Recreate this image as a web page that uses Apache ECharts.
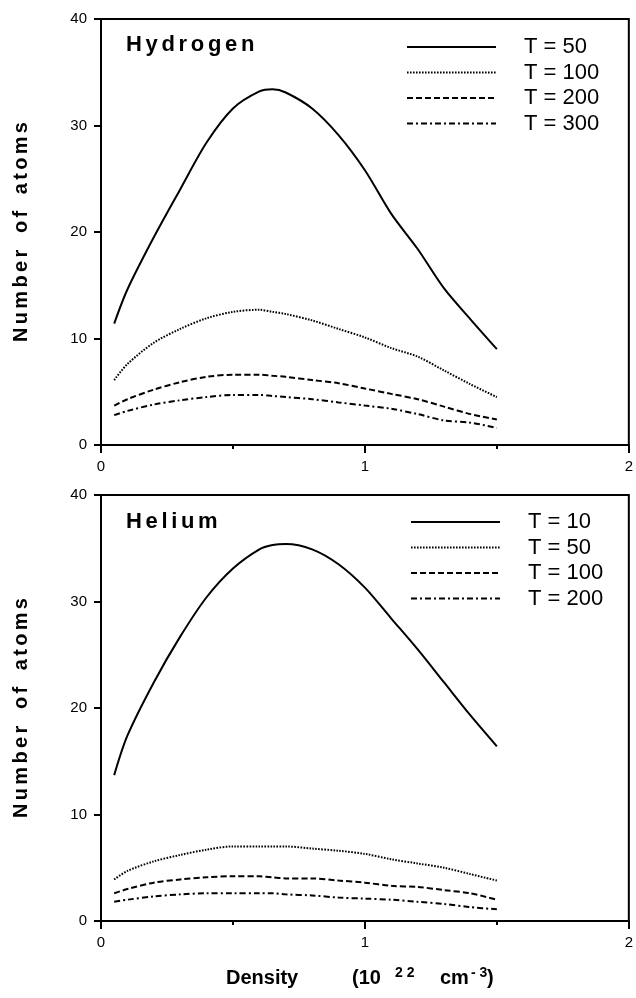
<!DOCTYPE html>
<html>
<head>
<meta charset="utf-8">
<script src="https://cdn.jsdelivr.net/npm/echarts@6/dist/echarts.min.js"></script>
<style>
  html, body { margin: 0; padding: 0; background: #fff; }
  #main { width: 636px; height: 998px; }
</style>
</head>
<body>
<div id="main"></div>
<script>
// density (10^22 cm^-3)
var density = [0.05, 0.1, 0.2, 0.3, 0.4, 0.5, 0.6, 0.65, 0.7, 0.8, 0.9, 1.0, 1.1, 1.2, 1.3, 1.4, 1.5];

// hydrogen, number of atoms
var hT50 = [11.4, 14.6, 19.5, 24.0, 28.4, 31.6, 33.2, 33.4, 33.1, 31.6, 29.1, 25.8, 21.7, 18.4, 14.7, 11.8, 9.0];
var hT100 = [6.1, 7.6, 9.6, 10.9, 11.9, 12.5, 12.7, 12.5, 12.3, 11.7, 10.9, 10.1, 9.1, 8.3, 7.0, 5.7, 4.5];
var hT200 = [3.7, 4.3, 5.2, 5.9, 6.4, 6.6, 6.6, 6.5, 6.4, 6.1, 5.8, 5.3, 4.8, 4.3, 3.6, 2.9, 2.4];
var hT300 = [2.8, 3.2, 3.8, 4.2, 4.5, 4.7, 4.7, 4.6, 4.5, 4.3, 4.0, 3.7, 3.4, 2.9, 2.3, 2.1, 1.6];

// helium, number of atoms
var heT10 = [13.7, 17.4, 22.4, 26.7, 30.4, 33.1, 34.9, 35.3, 35.4, 34.9, 33.5, 31.3, 28.4, 25.5, 22.4, 19.3, 16.4];
var heT50 = [3.9, 4.7, 5.6, 6.2, 6.7, 7.0, 7.0, 7.0, 7.0, 6.8, 6.6, 6.3, 5.8, 5.4, 5.0, 4.4, 3.8];
var heT100 = [2.6, 3.0, 3.6, 3.9, 4.1, 4.2, 4.2, 4.1, 4.0, 4.0, 3.8, 3.6, 3.3, 3.2, 2.9, 2.6, 2.0];
var heT200 = [1.8, 2.0, 2.3, 2.5, 2.6, 2.6, 2.6, 2.6, 2.5, 2.4, 2.2, 2.1, 2.0, 1.8, 1.6, 1.3, 1.1];

var hLabels = ["T = 50", "T = 100", "T = 200", "T = 300"];
var heLabels = ["T = 10", "T = 50", "T = 100", "T = 200"];

var font = "Liberation Sans";
var lineTypes = ["solid", [1.6, 1.4], [6, 3], [6, 3, 2, 3]];

// spread letters a bit, like the old typeset labels
var spaced = function (s) {
  return s.split("").join("\u2006");
};

var pairs = function (ys) {
  return ys.map(function (y, i) { return [density[i], y]; });
};

var makeSeries = function (prefix, labels, sets, idx) {
  return sets.map(function (ys, i) {
    return {
      name: prefix + labels[i],
      type: "line",
      xAxisIndex: idx,
      yAxisIndex: idx,
      data: pairs(ys),
      symbol: "none",
      smooth: 0.3,
      silent: true,
      lineStyle: { color: "#000", width: 2, type: lineTypes[i] },
      itemStyle: { color: "#000" },
    };
  });
};

var xAxisOf = function (idx) {
  return {
    type: "value",
    gridIndex: idx,
    min: 0,
    max: 2,
    interval: 1,
    axisLine: { show: true, onZero: false, lineStyle: { color: "#000", width: 2 } },
    axisTick: { show: true, length: 8, lineStyle: { color: "#000", width: 2 } },
    minorTick: { show: true, splitNumber: 2, length: 4, lineStyle: { color: "#000", width: 2 } },
    axisLabel: { color: "#000", fontFamily: font, fontSize: 15, margin: 14 },
    splitLine: { show: false },
  };
};

var yAxisOf = function (idx) {
  return {
    type: "value",
    gridIndex: idx,
    min: 0,
    max: 40,
    interval: 10,
    name: spaced("Number") + "   " + spaced("of") + "   " + spaced("atoms"),
    nameLocation: "middle",
    nameRotate: 90,
    nameGap: 70,
    nameTextStyle: { color: "#000", fontFamily: font, fontWeight: "bold", fontSize: 20 },
    axisLine: { show: true, onZero: false, lineStyle: { color: "#000", width: 2 } },
    axisTick: { show: true, length: 7, lineStyle: { color: "#000", width: 2 } },
    axisLabel: { color: "#000", fontFamily: font, fontSize: 15, margin: 14 },
    splitLine: { show: false },
  };
};

var legendOf = function (prefix, labels, left, top) {
  return {
    orient: "vertical",
    left: left,
    top: top,
    padding: 0,
    itemWidth: 89,
    itemHeight: 10,
    itemGap: 3.5,
    selectedMode: false,
    data: labels.map(function (l) { return prefix + l; }),
    formatter: function (name) { return name.slice(prefix.length); },
    itemStyle: { color: "rgba(0,0,0,0)", borderWidth: 0, opacity: 0 },
    textStyle: {
      color: "#000",
      fontFamily: font,
      fontSize: 22,
      lineHeight: 22,
      padding: [0, 0, 0, 23],
    },
  };
};

var chart = echarts.init(document.getElementById("main"), null, { renderer: "canvas" });

chart.setOption({
  backgroundColor: "#fff",
  animation: false,
  title: [
    {
      text: spaced("Hydrogen"),
      left: 126,
      top: 34,
      padding: 0,
      textStyle: { color: "#000", fontFamily: font, fontWeight: "bold", fontSize: 22 },
    },
    {
      text: spaced("Helium"),
      left: 126,
      top: 511,
      padding: 0,
      textStyle: { color: "#000", fontFamily: font, fontWeight: "bold", fontSize: 22 },
    },
  ],
  legend: [legendOf("H ", hLabels, 406, 36), legendOf("He ", heLabels, 410, 511)],
  grid: [
    { left: 101, top: 19, width: 532, height: 426, show: true, borderColor: "#000", borderWidth: 2 },
    { left: 101, top: 495, width: 532, height: 426, show: true, borderColor: "#000", borderWidth: 2 },
  ],
  xAxis: [xAxisOf(0), xAxisOf(1)],
  yAxis: [yAxisOf(0), yAxisOf(1)],
  series: makeSeries("H ", hLabels, [hT50, hT100, hT200, hT300], 0).concat(
    makeSeries("He ", heLabels, [heT10, heT50, heT100, heT200], 1)
  ),
  graphic: [
    { type: "text", x: 226, y: 988, style: { text: "Density", font: "bold 20px " + font, fill: "#000", verticalAlign: "bottom" } },
    { type: "text", x: 352, y: 988, style: { text: "(10", font: "bold 20px " + font, fill: "#000", verticalAlign: "bottom" } },
    { type: "text", x: 395, y: 980, style: { text: "2 2", font: "bold 14px " + font, fill: "#000", verticalAlign: "bottom" } },
    { type: "text", x: 440, y: 988, style: { text: "cm", font: "bold 20px " + font, fill: "#000", verticalAlign: "bottom" } },
    { type: "text", x: 471, y: 980, style: { text: "- 3", font: "bold 14px " + font, fill: "#000", verticalAlign: "bottom" } },
    { type: "text", x: 487, y: 988, style: { text: ")", font: "bold 20px " + font, fill: "#000", verticalAlign: "bottom" } },
  ],
});
</script>
</body>
</html>
